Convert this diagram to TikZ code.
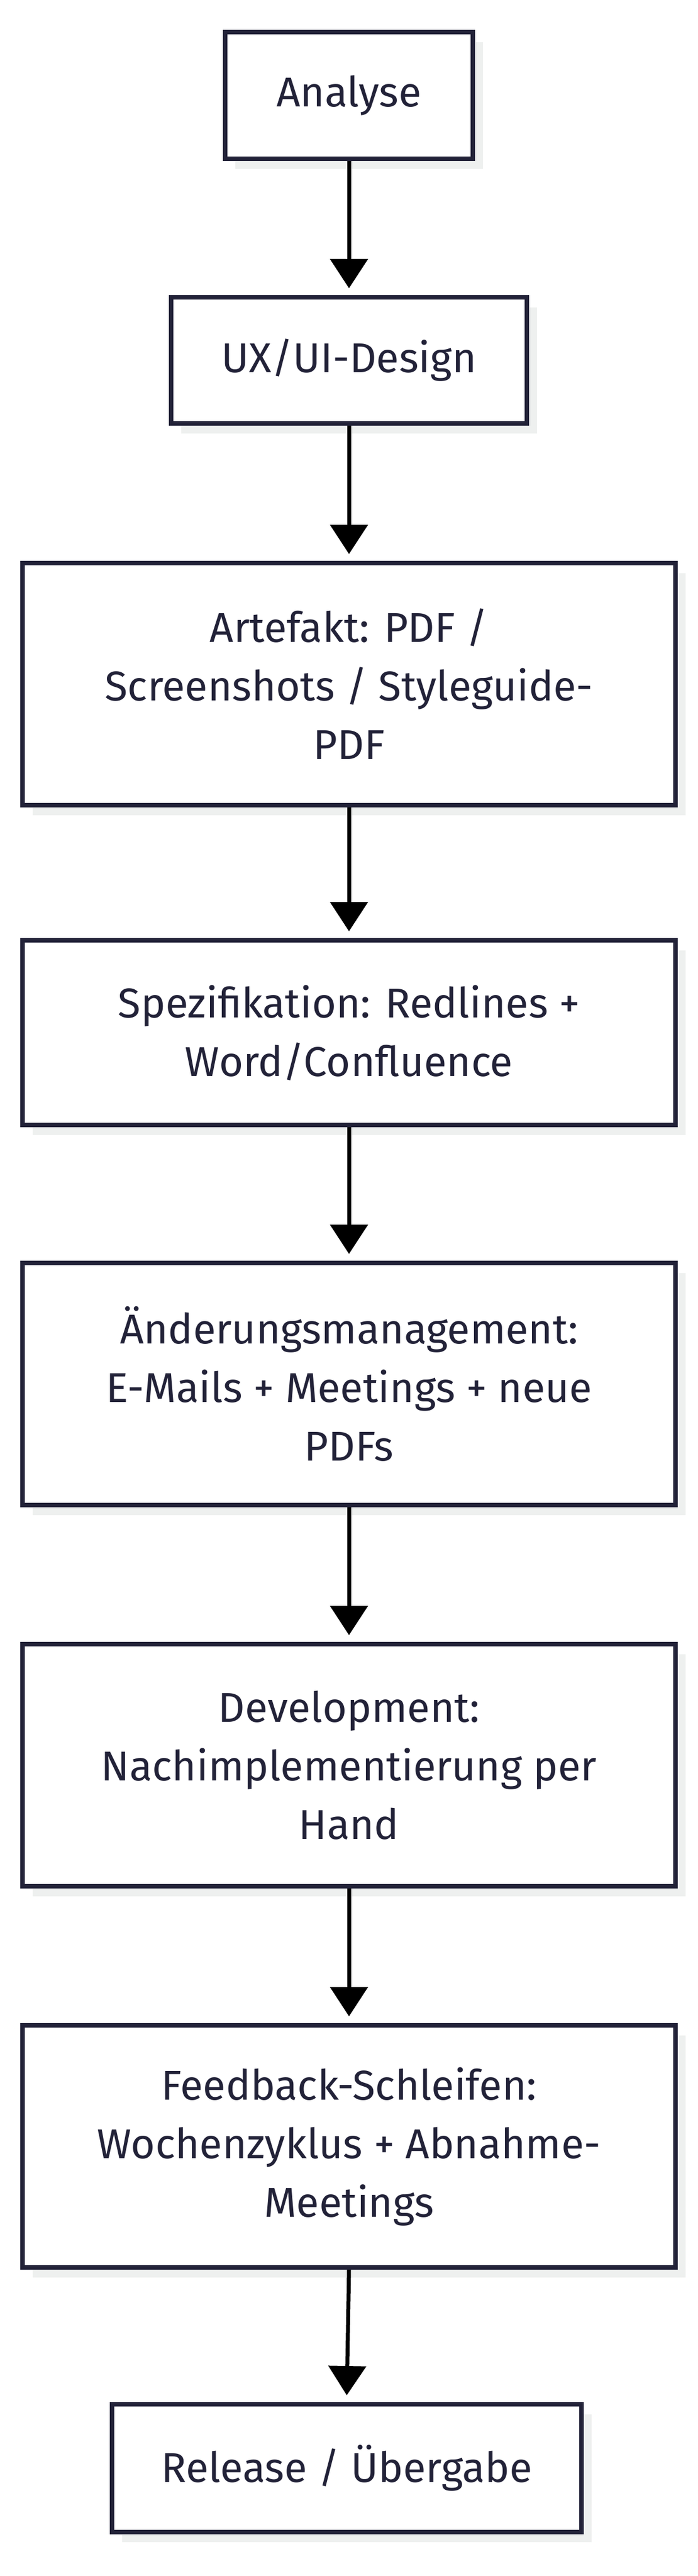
\documentclass[tikz,border=0pt]{standalone}
\usepackage{fontspec}
\setmainfont{Fira Sans}
\usetikzlibrary{arrows.meta,shadows}
\definecolor{ink}{HTML}{222238}
\definecolor{shadowc}{HTML}{EEF0EF}
\begin{document}
\begin{tikzpicture}[x=1pt,y=1pt,
  box/.style={draw=ink,line width=4pt,fill=white,align=center,text=ink,
    font=\fontsize{37}{52}\selectfont,inner sep=0pt,
    drop shadow={shadow xshift=9pt,shadow yshift=-9pt,fill=shadowc,opacity=1}},
  flow/.style={draw=black,line width=3.5pt,-{Triangle[length=26pt,width=33pt]}}]
\useasboundingbox[fill=white] (0,0) rectangle (620,-2287.5);
\node[box,minimum width=220pt,minimum height=112.5pt] (a) at (310,-84.75) {Analyse};
\node[box,minimum width=316pt,minimum height=112pt] (b) at (310,-320) {UX/UI-Design};
\node[box,minimum width=580pt,minimum height=215pt] (c) at (310,-607.5) {Artefakt: PDF /\\Screenshots / Styleguide-\\PDF};
\node[box,minimum width=580pt,minimum height=164pt] (d) at (310,-917) {Spezifikation: Redlines +\\Word/Confluence};
\node[box,minimum width=580pt,minimum height=215pt] (e) at (310,-1229) {Änderungsmanagement:\\E-Mails + Meetings + neue\\PDFs};
\node[box,minimum width=580pt,minimum height=215pt] (f) at (310,-1567.5) {Development:\\Nachimplementierung per\\Hand};
\node[box,minimum width=580pt,minimum height=215pt] (g) at (310,-1906) {Feedback-Schleifen:\\Wochenzyklus + Abnahme-\\Meetings};
\node[box,minimum width=417pt,minimum height=113.5pt] (h) at (308,-2191.75) {Release / Übergabe};
\foreach \p/\q in {a/b,b/c,c/d,d/e,e/f,f/g,g/h}
  \draw[flow] (\p.south) -- ([yshift=6pt]\q.north);
\end{tikzpicture}
\end{document}
